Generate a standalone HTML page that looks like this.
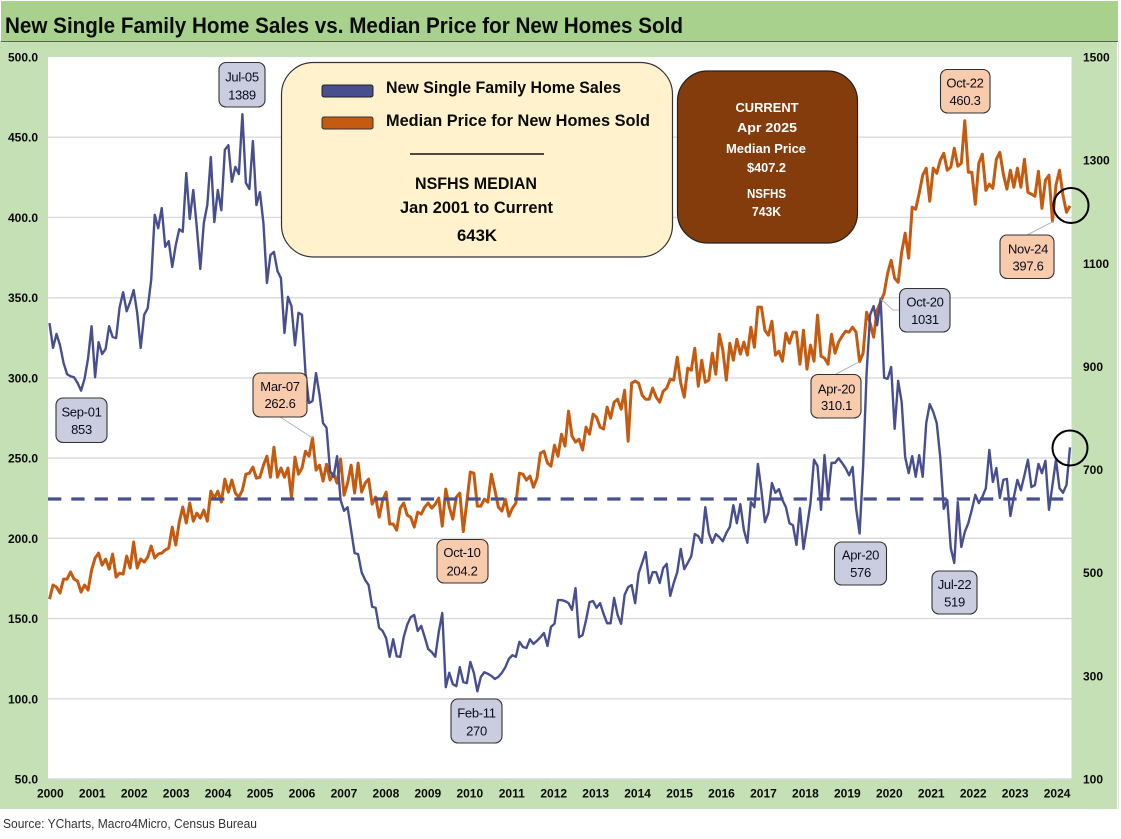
<!DOCTYPE html>
<html lang="en">
<head>
<meta charset="utf-8">
<title>New Single Family Home Sales vs. Median Price for New Homes Sold</title>
<style>
  html,body{margin:0;padding:0;background:#fff;}
  #stage{display:block;width:1121px;height:839px;}
  text{font-family:"Liberation Sans",Arial,sans-serif;}
  .cl{font-size:13px;letter-spacing:-0.3px;fill:#0b0b1a;text-anchor:middle;-webkit-text-stroke:0.25px #0b0b1a;}
  .lg{font-size:16.5px;font-weight:bold;fill:#0a0a0a;}
  .bt{font-size:13px;font-weight:bold;fill:#fff;text-anchor:middle;}
  .tk{font-size:12px;font-weight:bold;fill:#0a0a0a;}
</style>
</head>
<body>
<svg id="stage" xmlns="http://www.w3.org/2000/svg" width="1121" height="839" viewBox="0 0 1121 839">
  <rect x="0" y="0" width="1121" height="839" fill="#ffffff"/>
  <rect x="0" y="41" width="1117" height="768" fill="#c5e0b4"/>
  <rect x="1" y="1" width="1117" height="40" fill="#a9d18e"/>
  <line x1="1" y1="41.5" x2="1118" y2="41.5" stroke="#56694c" stroke-width="1"/>
  <line x1="1118.5" y1="42" x2="1118.5" y2="809" stroke="#dddddd" stroke-width="1"/>
  <text x="5" y="33" font-size="22.5" font-weight="bold" fill="#0c0c0c" textLength="678" lengthAdjust="spacingAndGlyphs">New Single Family Home Sales vs. Median Price for New Homes Sold</text>
  <rect x="48" y="57" width="1023.5" height="722" fill="#ffffff"/>
  <g id="grid"></g>
  <g id="xaxis"></g>
  <g id="yleft"></g>
  <g id="yright"></g>
  <g id="series"></g>

  <g>
    <rect x="281.5" y="62.5" width="391" height="194.5" rx="32" ry="32" fill="#fff2cc" stroke="#333333" stroke-width="1.2"/>
    <rect x="322" y="85" width="51" height="12" rx="2" fill="#474f8f" stroke="#222222" stroke-width="1"/>
    <rect x="322" y="117" width="51" height="12" rx="2" fill="#c55a11" stroke="#333333" stroke-width="1"/>
    <text class="lg" x="386" y="93" textLength="235" lengthAdjust="spacingAndGlyphs">New Single Family Home Sales</text>
    <text class="lg" x="386" y="126" textLength="264" lengthAdjust="spacingAndGlyphs">Median Price for New Homes Sold</text>
    <line x1="410" y1="154" x2="544" y2="154" stroke="#111111" stroke-width="1.5"/>
    <text class="lg" x="415" y="189" textLength="122" lengthAdjust="spacingAndGlyphs">NSFHS MEDIAN</text>
    <text class="lg" x="400" y="213" textLength="153" lengthAdjust="spacingAndGlyphs">Jan 2001 to Current</text>
    <text class="lg" x="457" y="241" textLength="40" lengthAdjust="spacingAndGlyphs">643K</text>
  </g>

  <g>
    <rect x="677.5" y="71" width="180" height="172" rx="30" ry="30" fill="#843c0c" stroke="#222222" stroke-width="1.2"/>
    <text class="bt" x="767" y="112" textLength="63" lengthAdjust="spacingAndGlyphs">CURRENT</text>
    <text class="bt" x="767" y="132" textLength="60" lengthAdjust="spacingAndGlyphs">Apr 2025</text>
    <text class="bt" x="766" y="153" textLength="80" lengthAdjust="spacingAndGlyphs">Median Price</text>
    <text class="bt" x="766.5" y="172" textLength="39" lengthAdjust="spacingAndGlyphs">$407.2</text>
    <text class="bt" x="766.5" y="198" textLength="39" lengthAdjust="spacingAndGlyphs">NSFHS</text>
    <text class="bt" x="766.5" y="216" textLength="29" lengthAdjust="spacingAndGlyphs">743K</text>
  </g>

  <g id="leaders"></g>

  <g>
    <rect x="219" y="62.5" width="46" height="44.5" rx="7" fill="#cacde0" stroke="#333333" stroke-width="1.1"/>
    <text class="cl" x="242" y="81.5">Jul-05</text><text class="cl" x="242" y="99.5">1389</text>
  </g>
  <g>
    <rect x="56" y="398" width="51" height="44.5" rx="7" fill="#cacde0" stroke="#333333" stroke-width="1.1"/>
    <text class="cl" x="81.5" y="416.5">Sep-01</text><text class="cl" x="81.5" y="434">853</text>
  </g>
  <g>
    <rect x="253" y="373" width="54" height="44" rx="7" fill="#f8cbad" stroke="#333333" stroke-width="1.1"/>
    <text class="cl" x="280" y="391">Mar-07</text><text class="cl" x="280" y="408">262.6</text>
  </g>
  <g>
    <rect x="437" y="539.5" width="51" height="43.5" rx="7" fill="#f8cbad" stroke="#333333" stroke-width="1.1"/>
    <text class="cl" x="462" y="557">Oct-10</text><text class="cl" x="462" y="575.5">204.2</text>
  </g>
  <g>
    <rect x="451" y="699" width="51" height="44" rx="7" fill="#cacde0" stroke="#333333" stroke-width="1.1"/>
    <text class="cl" x="476.5" y="717.5">Feb-11</text><text class="cl" x="476.5" y="735.5">270</text>
  </g>
  <g>
    <rect x="940.5" y="69.5" width="49.5" height="43.5" rx="7" fill="#f8cbad" stroke="#333333" stroke-width="1.1"/>
    <text class="cl" x="965" y="87.5">Oct-22</text><text class="cl" x="965" y="105">460.3</text>
  </g>
  <g>
    <rect x="1000" y="235" width="54" height="43.5" rx="7" fill="#f8cbad" stroke="#333333" stroke-width="1.1"/>
    <text class="cl" x="1028" y="253.5">Nov-24</text><text class="cl" x="1028" y="270.5">397.6</text>
  </g>
  <g>
    <rect x="899.5" y="288.5" width="50.5" height="43.5" rx="7" fill="#cacde0" stroke="#333333" stroke-width="1.1"/>
    <text class="cl" x="925" y="306.5">Oct-20</text><text class="cl" x="925" y="324">1031</text>
  </g>
  <g>
    <rect x="811" y="374.5" width="50" height="43.5" rx="7" fill="#f8cbad" stroke="#333333" stroke-width="1.1"/>
    <text class="cl" x="836.5" y="393.5">Apr-20</text><text class="cl" x="836.5" y="410">310.1</text>
  </g>
  <g>
    <rect x="834.5" y="542" width="52" height="43" rx="7" fill="#cacde0" stroke="#333333" stroke-width="1.1"/>
    <text class="cl" x="860.5" y="559.5">Apr-20</text><text class="cl" x="860.5" y="577">576</text>
  </g>
  <g>
    <rect x="932" y="571" width="45" height="43" rx="7" fill="#cacde0" stroke="#333333" stroke-width="1.1"/>
    <text class="cl" x="954.5" y="589">Jul-22</text><text class="cl" x="954.5" y="606.5">519</text>
  </g>

  <circle cx="1071" cy="205.5" r="17.5" fill="none" stroke="#000000" stroke-width="2"/>
  <circle cx="1070" cy="448" r="17.5" fill="none" stroke="#000000" stroke-width="2"/>

  <text x="3" y="828" font-size="13" fill="#333333" textLength="254" lengthAdjust="spacingAndGlyphs">Source: YCharts, Macro4Micro, Census Bureau</text>
</svg>

<script>
// Chart data
const years = [2000,2001,2002,2003,2004,2005,2006,2007,2008,2009,2010,2011,2012,2013,2014,2015,2016,2017,2018,2019,2020,2021,2022,2023,2024];
const leftTicks = [50,100,150,200,250,300,350,400,450,500];
const rightTicks = [100,300,500,700,900,1100,1300,1500];
const medianSales = 643;
const salesValues = [
984,936,963,941,907,885,881,879,868,853,876,916,978,879,947,924,934,978,957,955,
1015,1044,1007,1025,1048,1004,936,1000,1013,1068,1194,1168,1207,1132,1143,1093,1135,1166,1161,1275,
1186,1242,1170,1089,1178,1213,1306,1180,1242,1203,1320,1329,1258,1287,1273,1389,1256,1244,1337,1213,
1238,1178,1062,1116,1122,1085,1071,965,1035,1017,941,1004,1000,887,829,833,887,845,790,781,
697,686,726,641,620,627,583,538,536,501,486,476,434,432,393,387,373,337,371,338,
337,375,399,414,418,387,397,375,352,346,337,385,422,278,306,284,280,317,288,286,
327,306,270,298,307,304,300,294,298,306,317,333,340,337,366,356,354,371,362,368,
375,383,358,395,401,447,447,445,441,428,470,375,379,408,443,445,432,441,420,402,
402,451,418,401,457,472,476,441,499,519,540,480,501,501,480,509,517,455,480,501,
546,507,519,532,575,571,558,627,577,558,575,569,561,577,589,631,596,633,583,558,
637,627,711,660,598,616,674,655,662,641,627,596,592,554,625,546,589,635,719,707,
622,728,647,713,713,722,713,703,689,705,625,576,705,887,1000,1017,980,1031,878,876,
899,779,872,831,724,693,726,686,728,686,790,827,812,790,724,624,641,548,519,637,
550,579,596,622,651,635,647,664,738,676,703,645,680,682,610,647,680,660,689,719,
666,670,711,693,717,622,670,719,664,655,670,743
];
const priceValues = [
162.1,170.9,169.6,165.9,174.6,174.6,179,174.6,173.4,166.5,170.9,167.7,180.2,187.7,190.8,183.3,187.1,180.8,190.2,175.8,
178.3,177.7,188.9,181.5,197.7,181.5,187.1,185.2,188.3,195.2,187.7,190.2,190.8,192.7,193.9,207,195.8,210.1,219.5,209.5,
222,210.7,215.7,212.6,217.6,210.7,229.4,225.1,229.4,222.6,236.9,228.8,236.3,228.2,225.7,230,240,240.6,244.4,237.5,
238.1,245.6,251.2,238.1,256.8,238.1,243.8,238.1,243.8,225.7,250.6,240,243.8,254.3,251.2,262.6,242.5,245.6,235.7,246.2,
236.3,240.6,234.4,249.4,226.9,234.4,245.6,228.2,246.9,228.8,234.4,236.9,221.3,225.7,213.2,223.8,228.8,208.9,208.9,205.1,
218.8,222,214.5,213.2,207,216.3,215.1,219.5,222,218.8,221.3,225.1,207.6,230.7,219.5,212,225.7,228.2,204.2,222.6,
241.3,240.6,220.1,220.1,224.4,222.6,240,230,219.5,217,224.4,213.8,218.8,222,240.6,240,236.3,238.8,231.9,237.5,
253.1,254.3,246.9,245,258.1,251.2,264.9,257.5,279.3,263.7,260,261.8,255,269.3,264.9,277.4,275.5,269.3,268.1,281.8,
274.9,284.9,286.7,280.5,292.3,260.6,296.7,298,296.7,289.2,286.7,286.7,293.6,288,284.9,291.7,293.6,299.2,298.6,312.9,
296.7,288,306.1,304.8,318.5,294.8,311,297.3,298.6,315.4,302.3,327.2,317.3,298.6,321.6,311,324.1,314.8,322.3,314.2,
331.6,319.1,344.1,344.1,329.7,326.6,335.3,314.2,316.6,310.4,327.9,321.6,328.5,328.5,308.5,329.7,305.4,320.4,310.4,339.1,
313.5,312.3,308.5,327.2,315.4,322.3,326,329.1,328.5,331.6,328.5,310.1,315.4,340.9,334.1,325.4,342.2,347.2,352.8,365.2,
373.3,362.1,359.6,378.3,390.2,374.6,406.4,405.1,415.1,426.3,430.7,410.1,430.7,427.5,435.6,440,429.4,431.3,443.1,431.9,
433.8,460.3,428.2,428.2,408.2,433.8,439.4,416.9,420.7,418.2,436.3,440.6,426.9,417.6,429.4,418.8,430.7,418.8,436.3,415.7,
414.5,413.2,428.8,405.7,423.2,426.3,397.6,420.1,429.4,413.8,403.2,407.2
];

const SVGNS = 'http://www.w3.org/2000/svg';
const plotLeft = 48, plotRight = 1071.5, plotTop = 57, plotBottom = 779;
const leftMin = 50, leftMax = 500, rightMin = 100, rightMax = 1500;
const stepX = 1020.5 / 291;

function xAt(i) { return 49.5 + stepX * i; }
function yLeft(v) { return plotBottom - (v - leftMin) / (leftMax - leftMin) * (plotBottom - plotTop); }
function yRight(v) { return plotBottom - (v - rightMin) / (rightMax - rightMin) * (plotBottom - plotTop); }
function xTick(k) { return plotLeft + 41.95 * k; }
function make(tag, parent, attrs) {
  const el = document.createElementNS(SVGNS, tag);
  for (const key in attrs) el.setAttribute(key, attrs[key]);
  parent.appendChild(el);
  return el;
}

const grid = document.getElementById('grid');
const yleftG = document.getElementById('yleft');
const yrightG = document.getElementById('yright');
const xaxisG = document.getElementById('xaxis');
const seriesG = document.getElementById('series');
const leadersG = document.getElementById('leaders');

leftTicks.forEach(function (v) {
  if (v !== leftMin && v !== leftMax) {
    const line = make('line', grid, { x1: plotLeft, x2: plotRight, y1: yLeft(v), y2: yLeft(v), stroke: '#d9d9d9', 'stroke-width': 1.4 });
    
    
  }
  const label = make('text', yleftG, { x: 38, y: yLeft(v) + 4.5, 'text-anchor': 'end', class: 'tk' });
  
  
  label.textContent = v.toFixed(1);
});

rightTicks.forEach(function (v) {
  const label = make('text', yrightG, { x: 1083, y: yRight(v) + 4.5, class: 'tk' });
  
  
  label.textContent = String(v);
});

const baseLine = make('line', xaxisG, { x1: plotLeft, x2: plotRight, y1: plotBottom, y2: plotBottom, stroke: '#d9d9d9', 'stroke-width': 1.4 });



years.forEach(function (year, k) {
  const tick = make('line', xaxisG, { x1: xTick(k), x2: xTick(k), y1: plotBottom, y2: plotBottom + 3, stroke: '#d9d9d9', 'stroke-width': 1 });
  
  
  const label = make('text', xaxisG, { x: xTick(k) + 2.3, y: 797.5, 'text-anchor': 'middle', class: 'tk' });
  
  
  label.textContent = String(year);
});

function seriesPath(values, yFn) {
  return values.map(function (v, i) { return (i ? 'L' : 'M') + xAt(i).toFixed(2) + ' ' + yFn(v).toFixed(2); }).join('');
}

const pricePath = make('path', seriesG, { d: seriesPath(priceValues, yLeft), fill: 'none', stroke: '#c55a11', 'stroke-width': 3, 'stroke-linejoin': 'round' });



const salesPath = make('path', seriesG, { d: seriesPath(salesValues, yRight), fill: 'none', stroke: '#474f8f', 'stroke-width': 2.4, 'stroke-linejoin': 'round' });



const medianLine = make('line', seriesG, { x1: plotLeft, x2: 1064, y1: yRight(medianSales), y2: yRight(medianSales), stroke: '#474f8f', 'stroke-width': 3.2, 'stroke-dasharray': '13.3 10' });



const marStart = make('line', leadersG, { x1: 280, y1: 417, x2: xAt(75), y2: yLeft(priceValues[75]), stroke: '#b5b5b5', 'stroke-width': 1 });



const novLeader = make('line', leadersG, { x1: 1027, y1: 235, x2: xAt(286) + 1, y2: yLeft(priceValues[286]), stroke: '#b5b5b5', 'stroke-width': 1 });



const aprLeader = make('line', leadersG, { x1: 836, y1: 374, x2: xAt(231), y2: yLeft(priceValues[231]), stroke: '#b5b5b5', 'stroke-width': 1 });



const octLeader = make('polyline', leadersG, { points: xAt(237) + ',' + yRight(salesValues[237]) + ' 893,310 899,310', fill: 'none', stroke: '#b5b5b5', 'stroke-width': 1 });


</script>
</body>
</html>
